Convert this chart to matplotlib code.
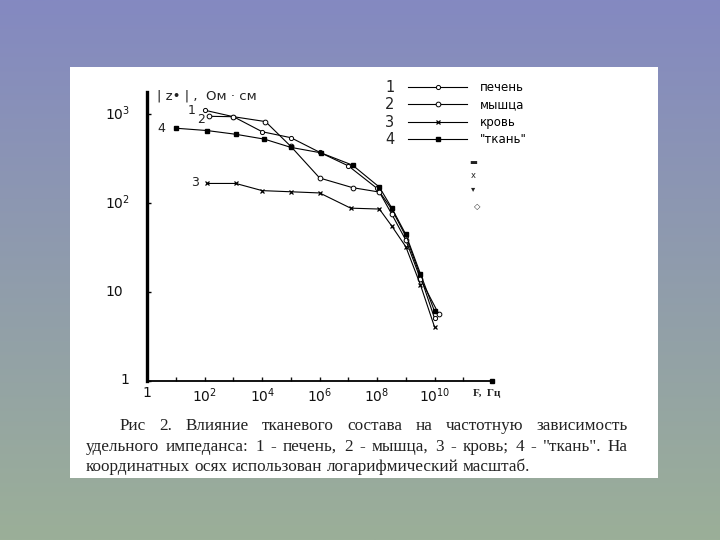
import numpy as np
import matplotlib
matplotlib.use("Agg")
import matplotlib.pyplot as plt
from matplotlib.patches import Rectangle

plt.rcParams['font.family'] = ['DejaVu Sans']
plt.rcParams['mathtext.fontset'] = 'dejavusans'

# ---------------- data ----------------
freq_liver = [1e2, 1e3, 1e4, 1e5, 1e6, 1e7, 1e8, 3.2e8, 1e9, 3.2e9, 1e10]
z_liver = [1100, 930, 630, 540, 370, 260, 145, 85, 42, 15, 5.0]

freq_muscle = [1.4e2, 1e3, 1.3e4, 1e5, 1e6, 1.4e7, 1.2e8, 3.2e8, 1e9, 3.2e9, 1.4e10]
z_muscle = [940, 930, 820, 430, 190, 148, 132, 75, 38, 14, 5.6]

freq_blood = [1.2e2, 1.2e3, 1e4, 1e5, 1e6, 1.2e7, 1.2e8, 3.2e8, 1e9, 3.2e9, 1e10]
z_blood = [165, 165, 137, 133, 129, 87, 85, 55, 32, 12, 4.0]

freq_tissue = [1e1, 1.2e2, 1.2e3, 1.2e4, 1e5, 1.1e6, 1.4e7, 1.2e8, 3.2e8, 1e9, 3.2e9, 1e10]
z_tissue = [690, 650, 590, 520, 420, 365, 265, 150, 88, 44, 16, 6.0]

curve_numbers = ['1', '2', '3', '4']
legend_names = ['печень', 'мышца', 'кровь', '"ткань"']

x_ticks = [1e0, 1e1, 1e2, 1e3, 1e4, 1e5, 1e6, 1e7, 1e8, 1e9, 1e10, 1e11]
x_tick_labels = ['1', '', r'$\mathregular{10^{2}}$', '', r'$\mathregular{10^{4}}$', '',
                 r'$\mathregular{10^{6}}$', '', r'$\mathregular{10^{8}}$', '',
                 r'$\mathregular{10^{10}}$', '']
y_ticks = [1, 10, 100, 1000]
y_tick_labels = ['1', '10', r'$\mathregular{10^{2}}$', r'$\mathregular{10^{3}}$']

caption_lines = [
    'Рис 2. Влияние тканевого состава на частотную зависимость',
    'удельного импеданса: 1 - печень,  2 - мышца, 3 - кровь; 4 - "ткань". На',
    'координатных осях использован логарифмический масштаб.',
]

W, H = 720, 540
fig = plt.figure(figsize=(7.2, 5.4), dpi=100)

# background gradient
bg = fig.add_axes([0, 0, 1, 1], zorder=-10)
top = np.array([132, 137, 193]) / 255
bottom = np.array([155, 175, 152]) / 255
t = np.linspace(0, 1, 256)[:, None, None]
grad = top[None, None, :] * (1 - t) + bottom[None, None, :] * t
bg.imshow(grad, aspect='auto', extent=[0, 1, 0, 1])
bg.axis('off')

# white panel
fig.patches.append(Rectangle((70 / W, (H - 478) / H), 588 / W, 411 / H,
                             transform=fig.transFigure, facecolor='white',
                             edgecolor='none', zorder=-5))

# main axes
x0, x1 = 147.3, 492.0
yb, yt = 380.5, 91.7
ax = fig.add_axes([x0 / W, (H - yb) / H, (x1 - x0) / W, (yb - yt) / H])
ax.set_facecolor('none')
ax.set_xscale('log')
ax.set_yscale('log')
ax.set_xlim(1, 1e12)
ax.set_ylim(1, 10 ** 3.25)

for s in ['top', 'right']:
    ax.spines[s].set_visible(False)
ax.spines['left'].set_linewidth(2.4)
ax.spines['bottom'].set_linewidth(1.3)

ax.xaxis.set_minor_locator(matplotlib.ticker.NullLocator())
ax.yaxis.set_minor_locator(matplotlib.ticker.NullLocator())
ax.set_xticks(x_ticks)
ax.set_xticklabels(x_tick_labels, fontsize=10)
ax.set_yticks(y_ticks)
ax.set_yticklabels([])
ax.tick_params(axis='x', direction='in', length=3, width=1, pad=4, colors='#111111')
ax.tick_params(axis='y', direction='in', length=3, width=1)

# y tick labels placed beside their ticks
y_label_dx = [-27, -42, -42, -42]
for v, lab, dx in zip(y_ticks, y_tick_labels, y_label_dx):
    ax.annotate(lab, xy=(0, v), xycoords=('axes fraction', 'data'),
                xytext=(dx * 0.72, 0), textcoords='offset points',
                ha='left', va='center', fontsize=10, color='#111111')

# axis arrow end
ax.plot([1], [0], marker='s', ms=2.5, color='black', transform=ax.transAxes, clip_on=False)

series = [
    (freq_liver, z_liver, dict(marker='o', ms=3.0, mfc='white', mec='black', mew=0.7)),
    (freq_muscle, z_muscle, dict(marker='o', ms=3.4, mfc='white', mec='black', mew=0.7)),
    (freq_blood, z_blood, dict(marker='x', ms=3.0, mec='black', mew=0.9)),
    (freq_tissue, z_tissue, dict(marker='s', ms=2.3, mfc='black', mec='black')),
]
handles = []
for f, z, st in series:
    h, = ax.plot(f, z, color='black', lw=0.8, clip_on=False, **st)
    handles.append(h)

# curve number labels near the start of each curve
offsets = [(-9.5, -0.5), (-5.5, -2.0), (-9, 0.5), (-10.5, 0)]
for num, (f, z, _), off in zip(curve_numbers, series, offsets):
    ax.annotate(num, xy=(f[0], z[0]), xytext=off, textcoords='offset points',
                ha='center', va='center', fontsize=9, color='#222222')

# y-axis title
ax.text((157 - x0) / (x1 - x0), (yb - 96.0) / (yb - yt), '| z• | ,  Ом · см',
        transform=ax.transAxes, ha='left', va='center', fontsize=9.5, color='#222222')

# x-axis title
ax.text((473 - x0) / (x1 - x0), -(393 - yb) / (yb - yt), 'F,  Гц',
        transform=ax.transAxes, ha='left', va='center', fontsize=8,
        fontweight='bold', family='Liberation Serif', color='#222222')

# legend
leg = ax.legend(handles, legend_names, loc='upper left',
                bbox_to_anchor=((408 - x0) / (x1 - x0), (yb - 81) / (yb - yt)),
                frameon=False, fontsize=8.5, handlelength=5.0, handletextpad=1.1,
                labelspacing=0.38, borderpad=0, borderaxespad=0)

fig.canvas.draw()
renderer = fig.canvas.get_renderer()
for num, txt in zip(curve_numbers, leg.get_texts()):
    bb = txt.get_window_extent(renderer)
    yc = (bb.y0 + bb.y1) / 2
    fig.text(390 / W, yc / H, num, ha='center', va='center', fontsize=10.5, color='#222222')

# stray symbols below legend
for sym, px, py in [('▬', 473, 163), ('x', 473, 176), ('▾', 473, 189), ('◇', 477, 207)]:
    fig.text(px / W, (H - py) / H, sym, ha='center', va='center', fontsize=6,
             family=['DejaVu Sans'], color='#222222')

# caption, justified
cap_fs = 12.3
cap_specs = [(120, 628, 430.5, True), (86, 628, 451, True), (86, None, 471, False)]
for line, (cx0, cx1, base, just) in zip(caption_lines, cap_specs):
    words = line.split()
    texts = [fig.text(0, 0, w, fontsize=cap_fs, family='Liberation Serif',
                      va='baseline', ha='left', color='#222222') for w in words]
    widths = [tt.get_window_extent(renderer).width for tt in texts]
    if just:
        gap = (cx1 - cx0 - sum(widths)) / (len(words) - 1)
    else:
        sp = fig.text(0, 0, 'a a', fontsize=cap_fs, family='Liberation Serif')
        sp2 = fig.text(0, 0, 'aa', fontsize=cap_fs, family='Liberation Serif')
        gap = sp.get_window_extent(renderer).width - sp2.get_window_extent(renderer).width
        sp.remove(); sp2.remove()
    x = cx0
    for tt, w in zip(texts, widths):
        tt.set_position((x / W, (H - base) / H))
        x += w + gap

fig.savefig('out.png', dpi=100)
